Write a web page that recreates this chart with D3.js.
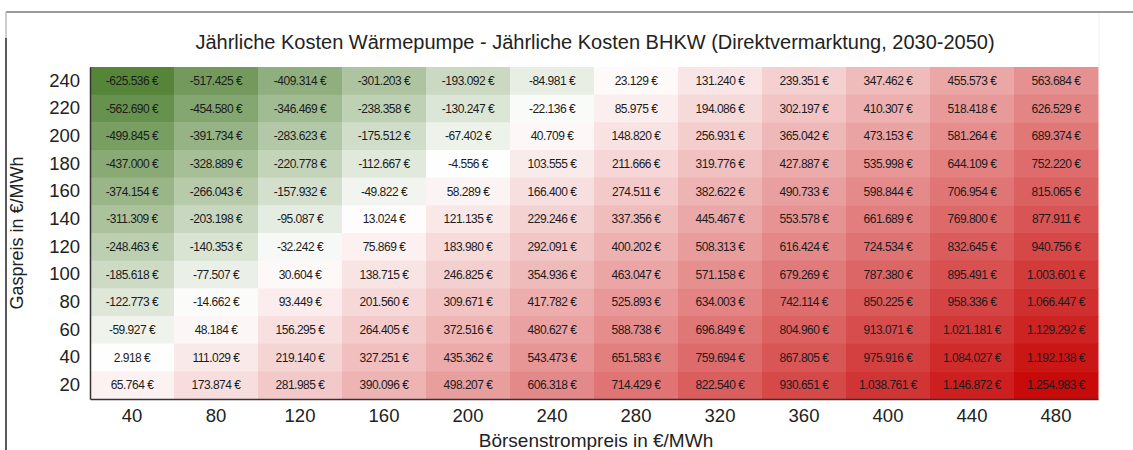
<!DOCTYPE html>
<html>
<head>
<meta charset="utf-8">
<script src="https://cdn.jsdelivr.net/npm/d3@7"></script>
<style>
  html, body { margin: 0; padding: 0; background: #fff; }
  svg { display: block; font-family: "Liberation Sans", Arial, sans-serif; }
</style>
</head>
<body>
<svg id="chart" width="1133" height="450"></svg>
<script>
// Electricity price columns (€/MWh) and gas price rows (€/MWh, top to bottom)
const strompreise = [40, 80, 120, 160, 200, 240, 280, 320, 360, 400, 440, 480];
const gaspreise = [240, 220, 200, 180, 160, 140, 120, 100, 80, 60, 40, 20];

// Annual cost difference heat pump minus CHP, one array per gas price row (€)
const row240 = [-625536, -517425, -409314, -301203, -193092, -84981, 23129, 131240, 239351, 347462, 455573, 563684];
const row220 = [-562690, -454580, -346469, -238358, -130247, -22136, 85975, 194086, 302197, 410307, 518418, 626529];
const row200 = [-499845, -391734, -283623, -175512, -67402, 40709, 148820, 256931, 365042, 473153, 581264, 689374];
const row180 = [-437000, -328889, -220778, -112667, -4556, 103555, 211666, 319776, 427887, 535998, 644109, 752220];
const row160 = [-374154, -266043, -157932, -49822, 58289, 166400, 274511, 382622, 490733, 598844, 706954, 815065];
const row140 = [-311309, -203198, -95087, 13024, 121135, 229246, 337356, 445467, 553578, 661689, 769800, 877911];
const row120 = [-248463, -140353, -32242, 75869, 183980, 292091, 400202, 508313, 616424, 724534, 832645, 940756];
const row100 = [-185618, -77507, 30604, 138715, 246825, 354936, 463047, 571158, 679269, 787380, 895491, 1003601];
const row80  = [-122773, -14662, 93449, 201560, 309671, 417782, 525893, 634003, 742114, 850225, 958336, 1066447];
const row60  = [-59927, 48184, 156295, 264405, 372516, 480627, 588738, 696849, 804960, 913071, 1021181, 1129292];
const row40  = [2918, 111029, 219140, 327251, 435362, 543473, 651583, 759694, 867805, 975916, 1084027, 1192138];
const row20  = [65764, 173874, 281985, 390096, 498207, 606318, 714429, 822540, 930651, 1038761, 1146872, 1254983];
const rows = [row240, row220, row200, row180, row160, row140, row120, row100, row80, row60, row40, row20];

const titel = "Jährliche Kosten Wärmepumpe - Jährliche Kosten BHKW (Direktvermarktung, 2030-2050)";
const xTitel = "Börsenstrompreis in €/MWh";
const yTitel = "Gaspreis in €/MWh";

// Flat cell list built from the row arrays
const cells = [];
rows.forEach((r, i) => r.forEach((v, j) => cells.push({ gas: gaspreise[i], strom: strompreise[j], value: v })));

const svg = d3.select("#chart");
const margin = { left: 90, right: 35, top: 67, bottom: 51 };
const W = 1133, H = 450;

const x = d3.scaleBand().domain(strompreise).range([margin.left, W - margin.right]).padding(0);
const y = d3.scaleBand().domain(gaspreise).range([margin.top, H - margin.bottom]).padding(0);

const extent = d3.extent(cells, d => d.value);
const color = d3.scaleLinear()
  .domain([extent[0], 0, extent[1]])
  .range(["#56853a", "#ffffff", "#c80a0a"])
  .interpolate(d3.interpolateRgb);

const de = d3.formatLocale({ decimal: ",", thousands: ".", grouping: [3], currency: ["", " €"], minus: "-" });
const fmt = v => de.format(",.0f")(v) + " €";

// Frame around the chart area
svg.append("line").attr("x1", 6).attr("x2", W).attr("y1", 12).attr("y2", 12)
  .attr("stroke", "#7a7a7a").attr("stroke-width", 1.5);
svg.append("line").attr("x1", 6).attr("x2", 6).attr("y1", 12).attr("y2", 38)
  .attr("stroke", "#bdbdbd").attr("stroke-width", 1.5);
svg.append("line").attr("x1", 6).attr("x2", 6).attr("y1", 38).attr("y2", H)
  .attr("stroke", "#222").attr("stroke-width", 1.5);
svg.append("line").attr("x1", 1099).attr("x2", 1099).attr("y1", 13).attr("y2", margin.top)
  .attr("stroke", "#eeeeee").attr("stroke-width", 1);

// Heatmap cells
const g = svg.append("g");
g.selectAll("rect").data(cells).join("rect")
  .attr("x", d => x(d.strom))
  .attr("y", d => y(d.gas))
  .attr("width", x.bandwidth() + 0.5)
  .attr("height", y.bandwidth() + 0.5)
  .attr("fill", d => color(d.value));

g.selectAll("text").data(cells).join("text")
  .attr("x", d => x(d.strom) + x.bandwidth() / 2)
  .attr("y", d => y(d.gas) + y.bandwidth() / 2)
  .attr("text-anchor", "middle")
  .attr("dominant-baseline", "central")
  .attr("font-size", 12)
  .attr("letter-spacing", -0.5)
  .attr("fill", "#1c1c1c")
  .text(d => fmt(d.value));

// Axes
const xAxis = svg.append("g")
  .attr("transform", `translate(0,${H - margin.bottom})`)
  .call(d3.axisBottom(x).tickSize(0).tickSizeOuter(0).tickPadding(10));
const yAxis = svg.append("g")
  .attr("transform", `translate(${margin.left},0)`)
  .call(d3.axisLeft(y).tickSize(0).tickSizeOuter(0).tickPadding(10));
[xAxis, yAxis].forEach(a => {
  a.selectAll("text").attr("font-size", 18.5).attr("fill", "#222")
    .attr("font-family", "\"Liberation Sans\", Arial, sans-serif");
  a.select(".domain").attr("stroke", "#333").attr("stroke-width", 1.5);
});

// Titles
svg.append("text").attr("x", 595).attr("y", 49).attr("text-anchor", "middle")
  .attr("font-size", 20).attr("fill", "#222").text(titel);
svg.append("text").attr("x", 596).attr("y", 447).attr("text-anchor", "middle")
  .attr("font-size", 19).attr("fill", "#222").text(xTitel);
svg.append("text")
  .attr("transform", `translate(23,${(margin.top + H - margin.bottom) / 2}) rotate(-90)`)
  .attr("text-anchor", "middle").attr("font-size", 18).attr("fill", "#222").text(yTitel);
</script>
</body>
</html>
